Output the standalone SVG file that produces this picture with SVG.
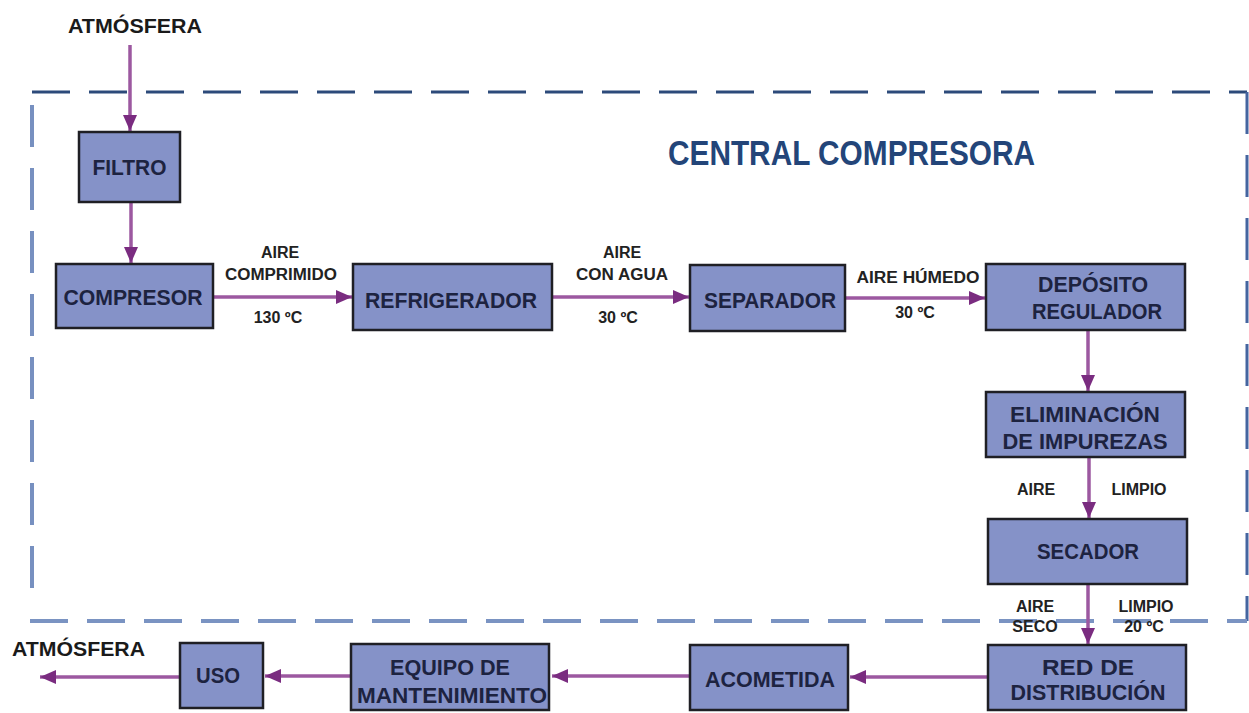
<svg xmlns="http://www.w3.org/2000/svg" width="1249" height="713" viewBox="0 0 1249 713">
<style>
.box{fill:#8592c8;stroke:#1f1f24;stroke-width:2.5}
.bt{font-family:"Liberation Sans",Arial,sans-serif;font-weight:bold;font-size:22px;fill:#1d2340;text-anchor:middle}
.lb{font-family:"Liberation Sans",Arial,sans-serif;font-weight:bold;font-size:16px;fill:#222;text-anchor:middle}
.atm{font-family:"Liberation Sans",Arial,sans-serif;font-weight:bold;font-size:21px;fill:#1a1a1a}
.title{font-family:"Liberation Sans",Arial,sans-serif;font-weight:bold;font-size:35px;fill:#234579}
.cn{fill:none;stroke:#9c58a0;stroke-width:3.5;marker-end:url(#ah)}
.dash{fill:none}
</style>
<defs>
<marker id="ah" markerUnits="userSpaceOnUse" markerWidth="17" markerHeight="15" refX="16" refY="7" orient="auto">
<path d="M0,0 L16,7 L0,14 z" fill="#7a2c80"/>
</marker>
</defs>
<rect width="1249" height="713" fill="#ffffff"/>

<g id="border">
<line class="dash" x1="32" y1="92" x2="1247" y2="92" stroke="#2c4a7a" stroke-width="3" stroke-dasharray="38 19"/>
<line class="dash" x1="1247" y1="92" x2="1247" y2="621" stroke="#4565a0" stroke-width="3" stroke-dasharray="42 21"/>
<line class="dash" x1="32" y1="105" x2="32" y2="600" stroke="#7790c0" stroke-width="4" stroke-dasharray="42 21"/>
<line class="dash" x1="30" y1="621" x2="1247" y2="621" stroke="#7a93c2" stroke-width="4" stroke-dasharray="38 19"/>
</g>

<text class="title" x="668" y="165" textLength="367" lengthAdjust="spacingAndGlyphs">CENTRAL COMPRESORA</text>

<g id="connectors">
<line class="cn" x1="130" y1="45" x2="130" y2="131"/>
<line class="cn" x1="131" y1="202" x2="131" y2="263"/>
<line class="cn" x1="213" y1="297" x2="352" y2="297"/>
<line class="cn" x1="552" y1="297" x2="689" y2="297"/>
<line class="cn" x1="845" y1="298" x2="985" y2="298"/>
<line class="cn" x1="1088" y1="330" x2="1088" y2="391"/>
<line class="cn" x1="1089" y1="457" x2="1089" y2="518"/>
<line class="cn" x1="1088" y1="584" x2="1088" y2="644"/>
<line class="cn" x1="988" y1="677" x2="850" y2="677"/>
<line class="cn" x1="690" y1="676" x2="552" y2="676"/>
<line class="cn" x1="351" y1="676" x2="265" y2="676"/>
<line class="cn" x1="180" y1="677" x2="40" y2="677"/>
</g>

<g id="labels">
<text class="atm" x="135" y="33" text-anchor="middle" textLength="134" lengthAdjust="spacingAndGlyphs">ATMÓSFERA</text>
<text class="atm" x="12" y="656" textLength="133" lengthAdjust="spacingAndGlyphs">ATMÓSFERA</text>
<text class="lb" x="280" y="258">AIRE</text>
<text class="lb" x="281" y="280" textLength="112" lengthAdjust="spacingAndGlyphs">COMPRIMIDO</text>
<text class="lb" x="278" y="323">130 ºC</text>
<text class="lb" x="622" y="258">AIRE</text>
<text class="lb" x="622" y="280" textLength="92" lengthAdjust="spacingAndGlyphs">CON AGUA</text>
<text class="lb" x="618" y="323">30 ºC</text>
<text class="lb" x="918" y="283" textLength="123" lengthAdjust="spacingAndGlyphs">AIRE HÚMEDO</text>
<text class="lb" x="915" y="318">30 ºC</text>
<text class="lb" x="1036" y="495">AIRE</text>
<text class="lb" x="1139" y="495">LIMPIO</text>
<text class="lb" x="1035" y="612">AIRE</text>
<text class="lb" x="1035" y="632">SECO</text>
<text class="lb" x="1146" y="612">LIMPIO</text>
<text class="lb" x="1144" y="632">20 ºC</text>
</g>

<g id="filtro">
<rect class="box" x="79" y="132" width="101" height="70"/>
<text class="bt" x="129.5" y="175" textLength="74" lengthAdjust="spacingAndGlyphs">FILTRO</text>
</g>
<g id="compresor">
<rect class="box" x="56" y="264" width="157" height="64"/>
<text class="bt" x="133" y="305" textLength="139" lengthAdjust="spacingAndGlyphs">COMPRESOR</text>
</g>
<g id="refrigerador">
<rect class="box" x="353" y="264" width="199" height="66"/>
<text class="bt" x="451" y="308" textLength="172" lengthAdjust="spacingAndGlyphs">REFRIGERADOR</text>
</g>
<g id="separador">
<rect class="box" x="690" y="265" width="155" height="66"/>
<text class="bt" x="770" y="308" textLength="132" lengthAdjust="spacingAndGlyphs">SEPARADOR</text>
</g>
<g id="deposito">
<rect class="box" x="986" y="264" width="199" height="66"/>
<text class="bt" x="1093" y="292" textLength="110" lengthAdjust="spacingAndGlyphs">DEPÓSITO</text>
<text class="bt" x="1097" y="319" textLength="130" lengthAdjust="spacingAndGlyphs">REGULADOR</text>
</g>
<g id="eliminacion">
<rect class="box" x="986" y="392" width="199" height="65"/>
<text class="bt" x="1085" y="422" textLength="150" lengthAdjust="spacingAndGlyphs">ELIMINACIÓN</text>
<text class="bt" x="1085" y="449" textLength="165" lengthAdjust="spacingAndGlyphs">DE IMPUREZAS</text>
</g>
<g id="secador">
<rect class="box" x="988" y="519" width="199" height="65"/>
<text class="bt" x="1088" y="559" textLength="102" lengthAdjust="spacingAndGlyphs">SECADOR</text>
</g>
<g id="red">
<rect class="box" x="988" y="645" width="198" height="65"/>
<text class="bt" x="1088" y="675" textLength="92" lengthAdjust="spacingAndGlyphs">RED DE</text>
<text class="bt" x="1088" y="700" textLength="155" lengthAdjust="spacingAndGlyphs">DISTRIBUCIÓN</text>
</g>
<g id="acometida">
<rect class="box" x="690" y="645" width="158" height="65"/>
<text class="bt" x="770" y="687" textLength="130" lengthAdjust="spacingAndGlyphs">ACOMETIDA</text>
</g>
<g id="equipo">
<rect class="box" x="351" y="644" width="198" height="66"/>
<text class="bt" x="450" y="675" textLength="120" lengthAdjust="spacingAndGlyphs">EQUIPO DE</text>
<text class="bt" x="452" y="703" textLength="190" lengthAdjust="spacingAndGlyphs">MANTENIMIENTO</text>
</g>
<g id="uso">
<rect class="box" x="180" y="643" width="83" height="65"/>
<text class="bt" x="218" y="683" textLength="44" lengthAdjust="spacingAndGlyphs">USO</text>
</g>
</svg>
